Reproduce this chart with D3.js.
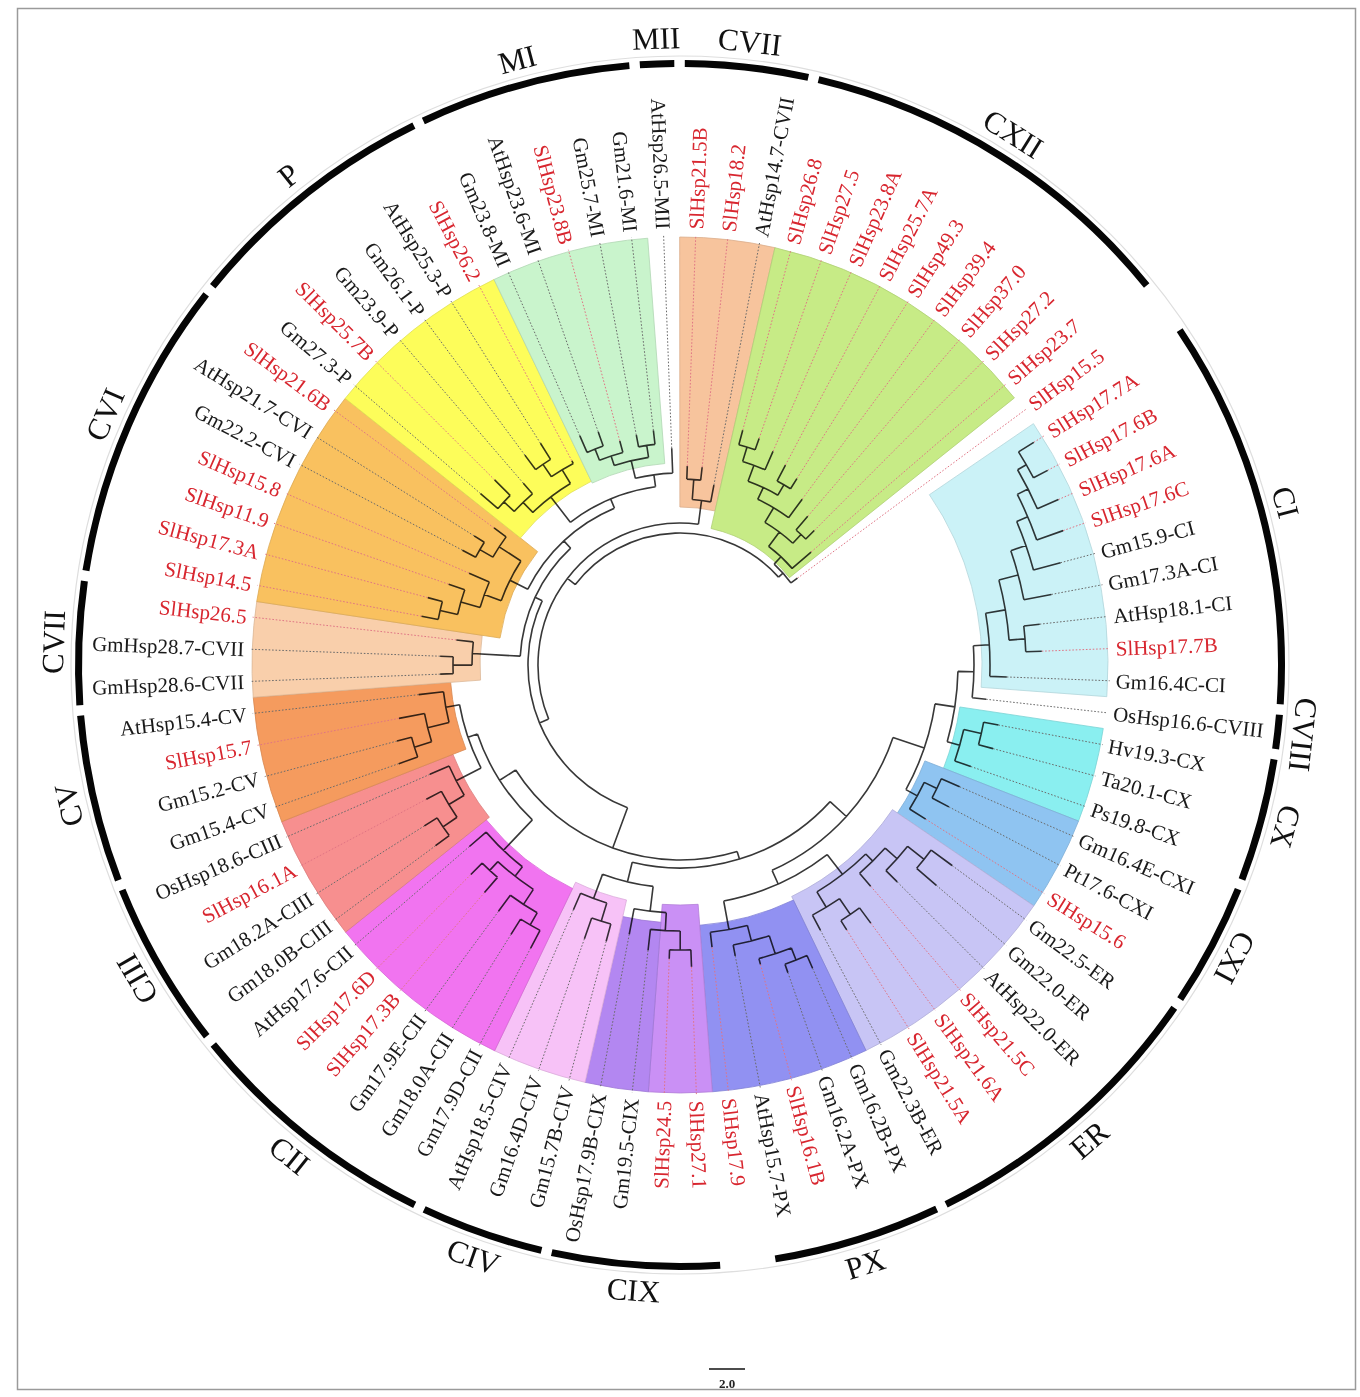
<!DOCTYPE html>
<html><head><meta charset="utf-8">
<script src="https://cdn.jsdelivr.net/npm/d3@7"></script>
<style>body{margin:0;background:#fff} svg{display:block}</style>
</head><body>
<svg id="chart" width="1360" height="1397"></svg>
<script>
// ---------------- DATA ----------------
// leaves in clockwise order, starting just right of 12 o'clock
const leafNames = [
 "SlHsp21.5B","SlHsp18.2","AtHsp14.7-CVII","SlHsp26.8","SlHsp27.5","SlHsp23.8A","SlHsp25.7A","SlHsp49.3",
 "SlHsp39.4","SlHsp37.0","SlHsp27.2","SlHsp23.7","SlHsp15.5","SlHsp17.7A","SlHsp17.6B","SlHsp17.6A",
 "SlHsp17.6C","Gm15.9-CI","Gm17.3A-CI","AtHsp18.1-CI","SlHsp17.7B","Gm16.4C-CI","OsHsp16.6-CVIII","Hv19.3-CX",
 "Ta20.1-CX","Ps19.8-CX","Gm16.4E-CXI","Pt17.6-CXI","SlHsp15.6","Gm22.5-ER","Gm22.0-ER","AtHsp22.0-ER",
 "SlHsp21.5C","SlHsp21.6A","SlHsp21.5A","Gm22.3B-ER","Gm16.2B-PX","Gm16.2A-PX","SlHsp16.1B","AtHsp15.7-PX",
 "SlHsp17.9","SlHsp27.1","SlHsp24.5","Gm19.5-CIX","OsHsp17.9B-CIX","Gm15.7B-CIV","Gm16.4D-CIV","AtHsp18.5-CIV",
 "Gm17.9D-CII","Gm18.0A-CII","Gm17.9E-CII","SlHsp17.3B","SlHsp17.6D","AtHsp17.6-CII","Gm18.0B-CIII","Gm18.2A-CIII",
 "SlHsp16.1A","OsHsp18.6-CIII","Gm15.4-CV","Gm15.2-CV","SlHsp15.7","AtHsp15.4-CV","GmHsp28.6-CVII","GmHsp28.7-CVII",
 "SlHsp26.5","SlHsp14.5","SlHsp17.3A","SlHsp11.9","SlHsp15.8","Gm22.2-CVI","AtHsp21.7-CVI","SlHsp21.6B",
 "Gm27.3-P","SlHsp25.7B","Gm23.9-P","Gm26.1-P","AtHsp25.3-P","SlHsp26.2","Gm23.8-MI","AtHsp23.6-MI",
 "SlHsp23.8B","Gm25.7-MI","Gm21.6-MI","AtHsp26.5-MII"
];

// clade subtrees (Newick). The number after ':' is the node's distance from the tree root.
const cCVIIt = "((SlHsp21.5B:71,SlHsp18.2:71):58,AtHsp14.7-CVII:55):38";
const cCXII  = "((((((SlHsp26.8:115,SlHsp27.5:112):100,SlHsp23.8A:105):85,(SlHsp25.7A:98,SlHsp49.3:92):80):68,SlHsp39.4:78):55,(SlHsp37.0:68,SlHsp27.2:62):50):38,SlHsp23.7:45):20";
const cCI    = "(((((((SlHsp17.7A:290,SlHsp17.6B:288):272,SlHsp17.6A:285):262,SlHsp17.6C:278):250,Gm15.9-CI:266):238,Gm17.3A-CI:250):222,(AtHsp18.1-CI:234,SlHsp17.7B:234):218):202,Gm16.4C-CI:199):182";
const cCX    = "((Hv19.3-CX:196,Ta20.1-CX:196):181,Ps19.8-CX:180):163";
const cCXI   = "((Gm16.4E-CXI:177,Pt17.6-CXI:176):157,SlHsp15.6:162):143";
const cER    = "((((Gm22.5-ER:210,Gm22.0-ER:210):184,AtHsp22.0-ER:179):163,SlHsp21.5C:164):147,((SlHsp21.6A:193,SlHsp21.5A:185):174,Gm22.3B-ER:172):155):137";
const cPX    = "((((Gm16.2B-PX:203,Gm16.2A-PX:198):189,SlHsp16.1B:182):176,AtHsp15.7-PX:168):157,SlHsp17.9:156):141";
const cCIX   = "(((SlHsp27.1:174,SlHsp24.5:166):157,Gm19.5-CIX:159):138,OsHsp17.9B-CIX:146):120";
const cCIV   = "((Gm15.7B-CIV:158,Gm16.4D-CIV:162):140,AtHsp18.5-CIV:139):121";
const cCII   = "((((Gm17.9D-CII:192,Gm18.0A-CII:190):172,Gm17.9E-CII:178):158,(SlHsp17.3B:172,SlHsp17.6D:168):152):140,AtHsp17.6-CII:150):128";
const cCIII  = "(((Gm18.0B-CIII:176,Gm18.2A-CIII:174):159,SlHsp16.1A:159):142,OsHsp18.6-CIII:145):124";
const cCV    = "(((Gm15.4-CV:170,Gm15.2-CV:165):150,SlHsp15.7:158):132,AtHsp15.4-CV:135):110";
const cCVIIl = "((GmHsp28.6-CVII:112,GmHsp28.7-CVII:112):99,SlHsp26.5:97):80";
const cCVI   = "((((SlHsp14.5:135,SlHsp17.3A:133):118,SlHsp11.9:117):100,SlHsp15.8:102):80,((Gm22.2-CVI:118,AtHsp21.7-CVI:115):103,SlHsp21.6B:103):88):62";
const cP     = "(((Gm27.3-P:135,SlHsp25.7B:134):112,Gm23.9-P:112):98,((Gm26.1-P:133,AtHsp25.3-P:134):115,SlHsp26.2:103):100):84";
const cMI    = "(((Gm23.8-MI:122,AtHsp23.6-MI:119):104,SlHsp23.8B:104):92,(Gm25.7-MI:106,Gm21.6-MI:108):94):82";

// backbone joining the clades
const nOsCI  = `(${cCI},OsHsp16.6-CVIII:180):166`;
const nCX    = `(${nOsCI},${cCX}):150`;
const nCXI   = `(${nCX},${cCXI}):130`;
const nERPX  = `(${cER},${cPX}):112`;
const nA1    = `(${nCXI},${nERPX}):97`;
const nCIXIV = `(${cCIX},${cCIV}):95`;
const nA2    = `(${nA1},${nCIXIV}):75`;
const nIIIV  = `(${cCIII},${cCV}):96`;
const nLeft  = `(${cCII},${nIIIV}):86`;
const nA3    = `(${nA2},${nLeft}):67`;
const nMIMII = `(${cMI},AtHsp26.5-MII:89):64`;
const nPM    = `(${cP},${nMIMII}):52`;
const nCVIPM = `(${cCVI},${nPM}):42`;
const nTL    = `(${cCVIIl},${nCVIPM}):32`;
const nNB    = `(${nA3},${nTL}):24`;
const nA     = `(${nNB},${cCVIIt}):14`;
const nX     = `(${cCXII},SlHsp15.5:18):10`;
const treeNewick = `(${nA},${nX}):4;`;

// shaded clade sectors: first leaf, last leaf, colour, extra leaf used to find the clade root
const wedgeFrom  = ["SlHsp21.5B","SlHsp26.8","SlHsp17.7A","Hv19.3-CX","Gm16.4E-CXI","Gm22.5-ER","Gm16.2B-PX","SlHsp27.1","Gm19.5-CIX","Gm15.7B-CIV","Gm17.9D-CII","Gm18.0B-CIII","Gm15.4-CV","GmHsp28.6-CVII","SlHsp14.5","Gm27.3-P","Gm23.8-MI"];
const wedgeTo    = ["AtHsp14.7-CVII","SlHsp23.7","Gm16.4C-CI","Ps19.8-CX","SlHsp15.6","Gm22.3B-ER","SlHsp17.9","SlHsp24.5","OsHsp17.9B-CIX","AtHsp18.5-CIV","AtHsp17.6-CII","OsHsp18.6-CIII","AtHsp15.4-CV","SlHsp26.5","SlHsp21.6B","SlHsp26.2","Gm21.6-MI"];
const wedgeColor = ["#f7c49d","#c7eb86","#cbf2f7","#8aeff0","#8fc4f1","#c8c5f5","#9191f2","#ca90f5","#b387f1","#f7c2f7","#f174f0","#f78f8f","#f59b5e","#f9cfab","#f9c15f","#fdfd5a","#c9f4cc"];
const wedgeAnchor= [null,null,null,null,null,null,null,"OsHsp17.9B-CIX","SlHsp27.1",null,null,null,null,null,null,null,null];

// outer ring groups
const groupLabel = ["CVII","CXII","CI","CVIII","CX","CXI","ER","PX","CIX","CIV","CII","CIII","CV","CVII","CVI","P","MI","MII"];
const groupFrom  = ["SlHsp21.5B","SlHsp26.8","SlHsp17.7A","OsHsp16.6-CVIII","Hv19.3-CX","Gm16.4E-CXI","Gm22.5-ER","Gm16.2B-PX","SlHsp27.1","Gm15.7B-CIV","Gm17.9D-CII","Gm18.0B-CIII","Gm15.4-CV","GmHsp28.6-CVII","SlHsp14.5","Gm27.3-P","Gm23.8-MI","AtHsp26.5-MII"];
const groupTo    = ["AtHsp14.7-CVII","SlHsp23.7","Gm16.4C-CI","OsHsp16.6-CVIII","Ps19.8-CX","SlHsp15.6","Gm22.3B-ER","AtHsp15.7-PX","OsHsp17.9B-CIX","AtHsp18.5-CIV","AtHsp17.6-CII","OsHsp18.6-CIII","AtHsp15.4-CV","SlHsp26.5","SlHsp21.6B","SlHsp26.2","Gm21.6-MI","AtHsp26.5-MII"];

const scaleBarUnits = 36, scaleBarLabel = "2.0";

// ---------------- LAYOUT ----------------
const CX0 = 680, CY0 = 665;
const R_TIP = 430, R_WEDGE = 428, R_LABEL = 436;
const RING_IN = 598, RING_OUT = 605, RING_LABEL = 627;

function parseNewick(s) {
  let i = 0;
  function node() {
    const n = {};
    if (s[i] === '(') {
      i++; n.children = [];
      do { n.children.push(node()); } while (s[i++] === ',');
    }
    let name = '';
    while (i < s.length && !',():;'.includes(s[i])) name += s[i++];
    n.name = name;
    if (s[i] === ':') {
      i++; let num = '';
      while (i < s.length && !',();'.includes(s[i])) num += s[i++];
      n.dist = +num;
    }
    return n;
  }
  return node();
}

const rad = d => d * Math.PI / 180;
const polar = (deg, r) => [r * Math.sin(rad(deg)), -r * Math.cos(rad(deg))];

const root = d3.hierarchy(parseNewick(treeNewick));
const nLeaves = leafNames.length;
const step = 360 / nLeaves;
const angleScale = d3.scaleLinear().domain([0, nLeaves]).range([2.1, 362.1]);
const rScale = d3.scaleLinear().domain([0, 300]).range([128, 428]);

let prev = -Infinity;
const leafBy = {};
root.leaves().forEach(l => {
  let a = angleScale(leafNames.indexOf(l.data.name));
  while (a < prev) a += 360;
  l.angle = a; prev = a;
  leafBy[l.data.name] = l;
});
root.eachAfter(n => {
  if (n.children) n.angle = (n.children[0].angle + n.children[n.children.length - 1].angle) / 2;
});
root.each(n => n.r = rScale(n.data.dist));

function lca(a, b) {
  const s = new Set(a.ancestors());
  return b.ancestors().find(n => s.has(n));
}

// ---------------- DRAW ----------------
const svg = d3.select("#chart");
svg.append("rect").attr("x", 17.5).attr("y", 8.5).attr("width", 1338).attr("height", 1381)
  .attr("fill", "none").attr("stroke", "#9a9a9a").attr("stroke-width", 1.5);

const g = svg.append("g").attr("transform", `translate(${CX0},${CY0})`);
const font = "'Liberation Serif','Times New Roman',serif";

g.append("circle").attr("r", 609).attr("fill", "none").attr("stroke", "#dedede").attr("stroke-width", 1.2);

// wedges
const arcGen = d3.arc();
wedgeFrom.forEach((f, i) => {
  const lf = leafBy[f], lt = leafBy[wedgeTo[i]];
  const anc = lca(lf, wedgeAnchor[i] ? leafBy[wedgeAnchor[i]] : lt);
  const c = wedgeColor[i];
  g.append("path")
    .attr("d", arcGen({innerRadius: anc.r - 8, outerRadius: R_WEDGE,
      startAngle: rad(lf.angle - step / 2), endAngle: rad(lt.angle + step / 2)}))
    .attr("fill", c).attr("stroke", d3.color(c).darker(0.35)).attr("stroke-width", 0.8);
});

// dotted extensions
g.append("g").selectAll("line").data(root.leaves()).join("line")
  .attr("x1", d => polar(d.angle, d.r)[0]).attr("y1", d => polar(d.angle, d.r)[1])
  .attr("x2", d => polar(d.angle, R_TIP)[0]).attr("y2", d => polar(d.angle, R_TIP)[1])
  .attr("stroke", d => d.data.name.startsWith("SlHsp") ? "#e07484" : "#6a6a6a")
  .attr("stroke-width", 1).attr("stroke-dasharray", "1.6,1.8");

// branches
const p = d3.path();
root.descendants().forEach(n => {
  if (n.parent) {
    const [x0, y0] = polar(n.angle, n.parent.r), [x1, y1] = polar(n.angle, n.r);
    p.moveTo(x0, y0); p.lineTo(x1, y1);
  }
  if (n.children) {
    const a0 = n.children[0].angle, a1 = n.children[n.children.length - 1].angle;
    const [sx, sy] = polar(a0, n.r);
    p.moveTo(sx, sy);
    p.arc(0, 0, n.r, rad(a0 - 90), rad(a1 - 90), false);
  }
});
g.append("path").attr("d", p.toString()).attr("fill", "none")
  .attr("stroke", "#383838").attr("stroke-width", 1.6)
  .style("mix-blend-mode", "multiply");

// leaf labels
g.append("g").selectAll("text").data(root.leaves()).join("text")
  .attr("transform", d => {
    const a = d.angle % 360;
    return `rotate(${d.angle - 90}) translate(${R_LABEL},0)` + (a < 180 ? "" : " rotate(180)");
  })
  .attr("text-anchor", d => (d.angle % 360) < 180 ? "start" : "end")
  .attr("dy", "0.35em")
  .attr("font-family", font).attr("font-size", 21)
  .attr("fill", d => d.data.name.startsWith("SlHsp") ? "#d8262f" : "#1a1a1a")
  .text(d => d.data.name);

// outer ring
groupLabel.forEach((lab, i) => {
  const a0 = leafBy[groupFrom[i]].angle - step / 2 + 0.5;
  const a1 = leafBy[groupTo[i]].angle + step / 2 - 0.5;
  g.append("path")
    .attr("d", arcGen({innerRadius: RING_IN, outerRadius: RING_OUT, startAngle: rad(a0), endAngle: rad(a1)}))
    .attr("fill", "#050505");
  const m = (a0 + a1) / 2, mm = m % 360;
  const flip = mm > 130 && mm < 230;
  g.append("text")
    .attr("transform", `rotate(${m}) translate(0,${-RING_LABEL})` + (flip ? " rotate(180)" : ""))
    .attr("text-anchor", "middle").attr("dominant-baseline", "central")
    .attr("font-family", font).attr("font-size", 31).attr("fill", "#111")
    .text(lab);
});

// scale bar
const barLen = rScale(scaleBarUnits) - rScale(0);
svg.append("line").attr("x1", 727 - barLen / 2).attr("x2", 727 + barLen / 2)
  .attr("y1", 1369).attr("y2", 1369).attr("stroke", "#111").attr("stroke-width", 1.6);
svg.append("text").attr("x", 727).attr("y", 1388).attr("text-anchor", "middle")
  .attr("font-family", font).attr("font-size", 13).attr("font-weight", "bold").attr("fill", "#222")
  .text(scaleBarLabel);
</script>
</body></html>
